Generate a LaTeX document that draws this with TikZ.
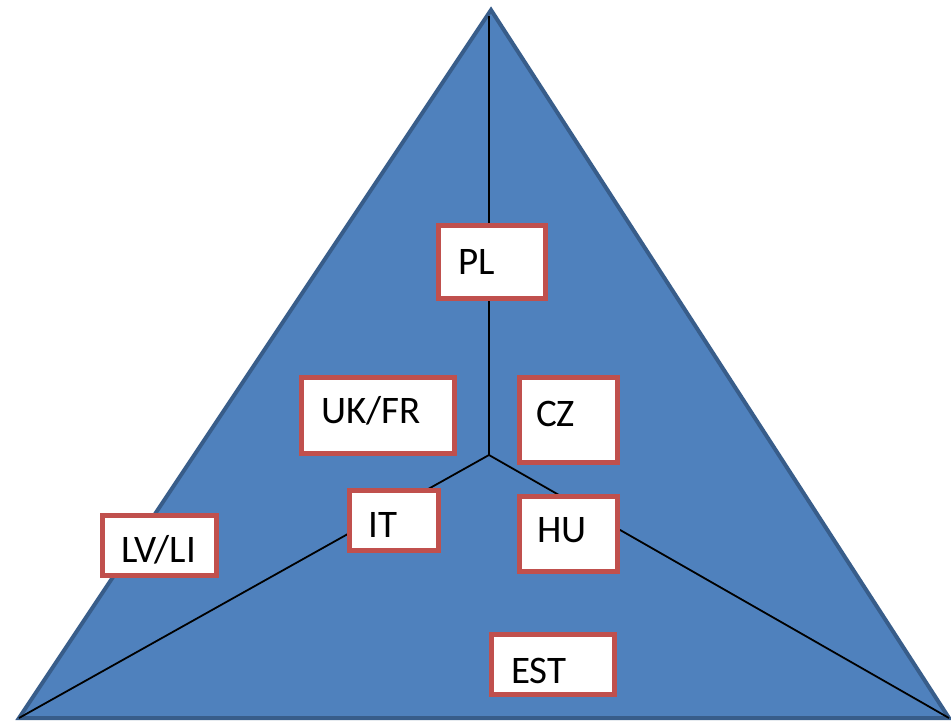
\documentclass[tikz,border=0pt]{standalone}
\usepackage{fontspec}
\setmainfont{Carlito}
\definecolor{trifill}{HTML}{4F81BD}
\definecolor{triedge}{HTML}{385D8A}
\definecolor{boxedge}{HTML}{C0504D}
\begin{document}
\begin{tikzpicture}[x=1pt,y=-1pt,
  tri/.style={fill=trifill,draw=triedge,line width=4pt,line join=miter},
  axis/.style={draw=black,line width=1.8pt},
  cbox/.style={draw=boxedge,fill=white,line width=5pt,rectangle,inner sep=0pt},
  lbl/.style={anchor=base west,inner sep=0pt,font=\fontsize{39}{41}\selectfont}]
\useasboundingbox (0,0) rectangle (951,721);
\coordinate (apex) at (491,10);
\coordinate (bl) at (19,718);
\coordinate (br) at (949,718);
\coordinate (c) at (489,455);
\coordinate (ctop) at (489,16);
\draw[tri] (apex) -- (bl) -- (br) -- cycle;
\draw[axis] (c) -- (ctop);
\draw[axis] (c) -- (bl);
\draw[axis] (c) -- (br);
\node[cbox,minimum width=107pt,minimum height=73pt] (pl) at (492,262) {};
\node[cbox,minimum width=153pt,minimum height=76pt] (ukfr) at (378,415.5) {};
\node[cbox,minimum width=98pt,minimum height=85pt] (cz) at (568.5,420) {};
\node[cbox,minimum width=89pt,minimum height=60pt] (it) at (394,520.5) {};
\node[cbox,minimum width=98pt,minimum height=75pt] (hu) at (568.5,534) {};
\node[cbox,minimum width=114pt,minimum height=60pt] (lvli) at (159.5,545.5) {};
\node[cbox,minimum width=123pt,minimum height=60pt] (est) at (553,664.5) {};
\node[lbl] (tpl) at (458,274) {PL};
\node[lbl] (tukfr) at (321,423) {UK/FR};
\node[lbl] (tcz) at (536,426) {CZ};
\node[lbl] (tit) at (368,537) {IT};
\node[lbl] (thu) at (537,542) {HU};
\node[lbl] (tlvli) at (121,562) {LV/LI};
\node[lbl] (test) at (511,683) {EST};
\end{tikzpicture}
\end{document}
